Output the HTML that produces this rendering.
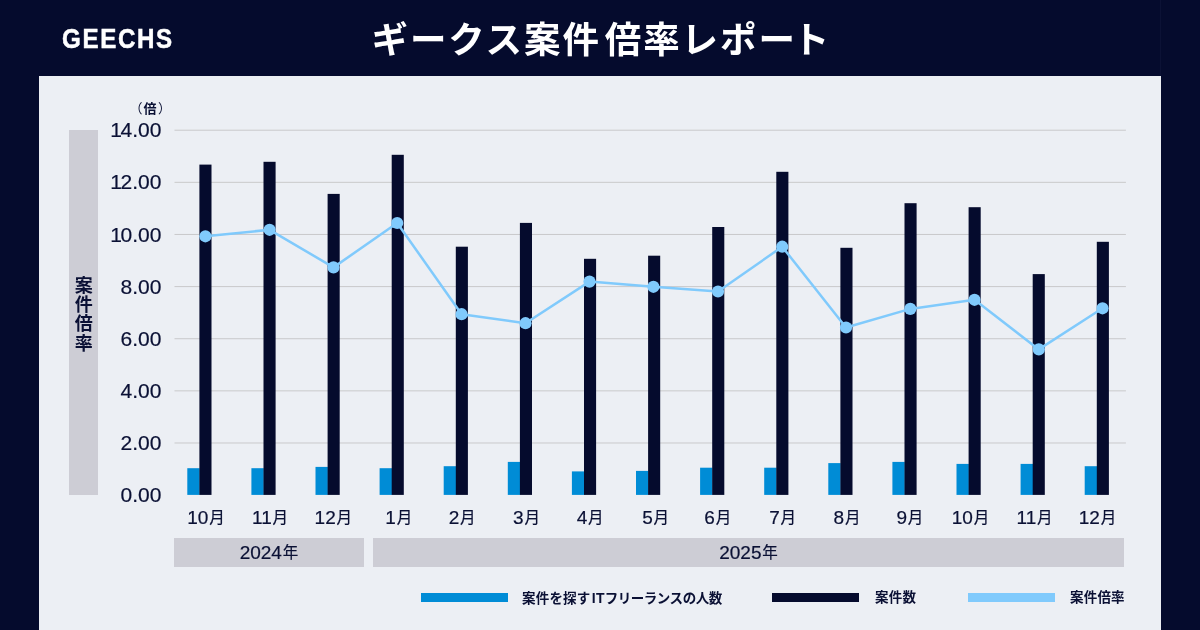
<!DOCTYPE html>
<html lang="ja">
<head>
<meta charset="utf-8">
<title>ギークス案件倍率レポート</title>
<style>
html,body{margin:0;padding:0;}
body{width:1200px;height:630px;overflow:hidden;background:#050b2d;position:relative;font-family:"Liberation Sans","Noto Sans CJK JP",sans-serif;color:#0a1034;}
.abs{position:absolute;}
#wrap{position:absolute;left:0;top:0;width:1200px;height:630px;will-change:transform;}
#panel{position:absolute;left:39px;top:76px;width:1122px;height:554px;background:#eceff4;}
#logo{position:absolute;left:61.5px;top:24px;font-size:26.8px;line-height:30px;font-weight:700;color:#fff;letter-spacing:1.85px;white-space:nowrap;-webkit-text-stroke:0.5px #fff;transform:scaleX(0.9);transform-origin:0 0;}
#title{position:absolute;left:371.5px;top:12.5px;font-size:36.5px;line-height:56px;font-weight:700;color:#fff;white-space:nowrap;letter-spacing:1.9px;}
#side{position:absolute;left:69px;top:130px;width:29px;height:365px;background:#cdcdd5;}
#sidet{position:absolute;left:66.7px;top:131.7px;width:29px;height:365px;display:flex;align-items:center;justify-content:center;}
#sidet span{writing-mode:vertical-rl;font-size:18px;font-weight:700;letter-spacing:1.3px;line-height:29px;white-space:nowrap;}
#unit{position:absolute;left:129.2px;top:99px;width:42px;text-align:center;font-size:13px;line-height:19px;font-weight:700;white-space:nowrap;}
.p{font-weight:400;}
.yl{position:absolute;left:90.4px;width:71px;text-align:right;font-size:21px;line-height:23px;-webkit-text-stroke:0.2px #0a1034;white-space:nowrap;}
.ml{position:absolute;top:505.6px;width:80px;text-align:center;font-size:19px;line-height:24px;white-space:nowrap;-webkit-text-stroke:0.2px #0a1034;}
.k{font-size:15.5px;margin-left:0.8px;position:relative;top:-1px;}
.yb{position:absolute;top:538px;height:29px;background:#cdcdd5;text-align:center;font-size:19px;line-height:29px;white-space:nowrap;-webkit-text-stroke:0.2px #0a1034;}
.it{font-size:14px;margin:0 0 0 1.3px;}
.nr{letter-spacing:-0.45px;}
.sw{position:absolute;top:593.3px;width:87px;height:9px;}
.lt{position:absolute;top:587px;font-size:13.5px;line-height:22px;font-weight:700;letter-spacing:0.2px;white-space:nowrap;}
svg{position:absolute;left:0;top:0;}
</style>
</head>
<body>
<div id="panel"></div>
<div id="wrap">
<div class="abs" style="left:1160px;top:0;width:1px;height:76px;background:#0c1235"></div>
<div id="logo">GEECHS</div>
<div id="title">ギークス案件<span style="margin-left:4px">倍率レポー</span><span style="margin-left:-4px">ト</span></div>
<div id="side"></div>
<div id="sidet"><span>案件倍率</span></div>
<div id="unit"><span class="p" style="margin-right:1px">（</span>倍<span class="p" style="margin-left:1.5px">）</span></div>
<div class="yl" style="top:118.2px"><span style="margin-right:-1.5px">1</span>4.00</div>
<div class="yl" style="top:170.3px"><span style="margin-right:-1.5px">1</span>2.00</div>
<div class="yl" style="top:222.5px"><span style="margin-right:-1.5px">1</span>0.00</div>
<div class="yl" style="top:274.6px">8.00</div>
<div class="yl" style="top:326.7px">6.00</div>
<div class="yl" style="top:378.9px">4.00</div>
<div class="yl" style="top:431.0px">2.00</div>
<div class="yl" style="top:483.1px">0.00</div>
<svg width="1200" height="630" viewBox="0 0 1200 630" shape-rendering="auto">
<rect x="174.5" y="129.70" width="951.4" height="1" fill="#c9c9cb"/>
<rect x="174.5" y="181.83" width="951.4" height="1" fill="#c9c9cb"/>
<rect x="174.5" y="233.96" width="951.4" height="1" fill="#c9c9cb"/>
<rect x="174.5" y="286.09" width="951.4" height="1" fill="#c9c9cb"/>
<rect x="174.5" y="338.22" width="951.4" height="1" fill="#c9c9cb"/>
<rect x="174.5" y="390.35" width="951.4" height="1" fill="#c9c9cb"/>
<rect x="174.5" y="442.48" width="951.4" height="1" fill="#c9c9cb"/>
<rect x="187.30" y="468.20" width="12.40" height="26.70" fill="#008cd6"/>
<rect x="199.40" y="164.60" width="12.10" height="330.30" fill="#050b2d"/>
<rect x="251.40" y="468.20" width="12.40" height="26.70" fill="#008cd6"/>
<rect x="263.50" y="161.80" width="12.10" height="333.10" fill="#050b2d"/>
<rect x="315.50" y="466.90" width="12.40" height="28.00" fill="#008cd6"/>
<rect x="327.60" y="193.90" width="12.10" height="301.00" fill="#050b2d"/>
<rect x="379.60" y="468.20" width="12.40" height="26.70" fill="#008cd6"/>
<rect x="391.70" y="154.80" width="12.10" height="340.10" fill="#050b2d"/>
<rect x="443.70" y="466.20" width="12.40" height="28.70" fill="#008cd6"/>
<rect x="455.80" y="246.70" width="12.10" height="248.20" fill="#050b2d"/>
<rect x="507.80" y="461.90" width="12.40" height="33.00" fill="#008cd6"/>
<rect x="519.90" y="222.90" width="12.10" height="272.00" fill="#050b2d"/>
<rect x="571.90" y="471.40" width="12.40" height="23.50" fill="#008cd6"/>
<rect x="584.00" y="258.80" width="12.10" height="236.10" fill="#050b2d"/>
<rect x="636.00" y="470.90" width="12.40" height="24.00" fill="#008cd6"/>
<rect x="648.10" y="255.70" width="12.10" height="239.20" fill="#050b2d"/>
<rect x="700.10" y="467.70" width="12.40" height="27.20" fill="#008cd6"/>
<rect x="712.20" y="227.00" width="12.10" height="267.90" fill="#050b2d"/>
<rect x="764.20" y="467.70" width="12.40" height="27.20" fill="#008cd6"/>
<rect x="776.30" y="171.80" width="12.10" height="323.10" fill="#050b2d"/>
<rect x="828.30" y="463.10" width="12.40" height="31.80" fill="#008cd6"/>
<rect x="840.40" y="247.80" width="12.10" height="247.10" fill="#050b2d"/>
<rect x="892.40" y="461.90" width="12.40" height="33.00" fill="#008cd6"/>
<rect x="904.50" y="203.20" width="12.10" height="291.70" fill="#050b2d"/>
<rect x="956.50" y="463.90" width="12.40" height="31.00" fill="#008cd6"/>
<rect x="968.60" y="207.20" width="12.10" height="287.70" fill="#050b2d"/>
<rect x="1020.60" y="463.90" width="12.40" height="31.00" fill="#008cd6"/>
<rect x="1032.70" y="274.10" width="12.10" height="220.80" fill="#050b2d"/>
<rect x="1084.70" y="466.20" width="12.40" height="28.70" fill="#008cd6"/>
<rect x="1096.80" y="241.80" width="12.10" height="253.10" fill="#050b2d"/>
<polyline points="205.4,236.3 269.6,229.8 333.5,267.4 397.2,223.0 461.6,314.2 525.5,323.2 589.5,281.6 653.4,286.8 718.0,291.5 782.2,246.7 846.0,327.5 910.3,308.9 974.5,299.8 1038.8,349.4 1102.5,308.3" fill="none" stroke="#80cafc" stroke-width="2.5" stroke-linejoin="round"/>
<circle cx="205.4" cy="236.3" r="6.1" fill="#80cafc"/>
<circle cx="269.6" cy="229.8" r="6.1" fill="#80cafc"/>
<circle cx="333.5" cy="267.4" r="6.1" fill="#80cafc"/>
<circle cx="397.2" cy="223.0" r="6.1" fill="#80cafc"/>
<circle cx="461.6" cy="314.2" r="6.1" fill="#80cafc"/>
<circle cx="525.5" cy="323.2" r="6.1" fill="#80cafc"/>
<circle cx="589.5" cy="281.6" r="6.1" fill="#80cafc"/>
<circle cx="653.4" cy="286.8" r="6.1" fill="#80cafc"/>
<circle cx="718.0" cy="291.5" r="6.1" fill="#80cafc"/>
<circle cx="782.2" cy="246.7" r="6.1" fill="#80cafc"/>
<circle cx="846.0" cy="327.5" r="6.1" fill="#80cafc"/>
<circle cx="910.3" cy="308.9" r="6.1" fill="#80cafc"/>
<circle cx="974.5" cy="299.8" r="6.1" fill="#80cafc"/>
<circle cx="1038.8" cy="349.4" r="6.1" fill="#80cafc"/>
<circle cx="1102.5" cy="308.3" r="6.1" fill="#80cafc"/>
</svg>
<div class="ml" style="left:166.0px">10<span class="k">月</span></div>
<div class="ml" style="left:230.1px">11<span class="k">月</span></div>
<div class="ml" style="left:293.3px">12<span class="k">月</span></div>
<div class="ml" style="left:358.8px">1<span class="k">月</span></div>
<div class="ml" style="left:422.2px">2<span class="k">月</span></div>
<div class="ml" style="left:486.5px">3<span class="k">月</span></div>
<div class="ml" style="left:550.2px">4<span class="k">月</span></div>
<div class="ml" style="left:615.6px">5<span class="k">月</span></div>
<div class="ml" style="left:677.8px">6<span class="k">月</span></div>
<div class="ml" style="left:742.7px">7<span class="k">月</span></div>
<div class="ml" style="left:807.0px">8<span class="k">月</span></div>
<div class="ml" style="left:869.9px">9<span class="k">月</span></div>
<div class="ml" style="left:930.5px">10<span class="k">月</span></div>
<div class="ml" style="left:994.6px">11<span class="k">月</span></div>
<div class="ml" style="left:1057.5px">12<span class="k">月</span></div>
<div class="yb" style="left:174.3px;width:189.3px">2024<span class="k">年</span></div>
<div class="yb" style="left:372.6px;width:751.9px">2025<span class="k">年</span></div>
<div class="sw" style="left:421px;background:#008cd6"></div>
<div class="lt" style="left:522px">案件を探す<span class="it">IT</span><span class="nr">フリーランスの人数</span></div>
<div class="sw" style="left:772px;background:#050b2d"></div>
<div class="lt" style="left:875px">案件数</div>
<div class="sw" style="left:968px;background:#80cafc"></div>
<div class="lt" style="left:1070px">案件倍率</div>
</div>
</body>
</html>
